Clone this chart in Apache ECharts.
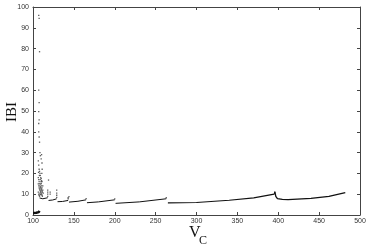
<!DOCTYPE html>
<html><head><meta charset="utf-8">
<script src="https://cdn.jsdelivr.net/npm/echarts@6/dist/echarts.min.js"></script>
<style>html,body{margin:0;padding:0;background:#fff}#c{width:370px;height:248px}</style>
</head><body><div id="c"></div>
<script>
// Axis ticks
const xTicks = [100,150,200,250,300,350,400,450,500];
const yTicks = [0,10,20,30,40,50,60,70,80,90,100];
// Branches of the IBI curve (V_C, IBI)
const branch0 = [[100,1.0],[104,1.1],[107,1.4],[108,2.0]];
const branch1 = [[108,8.2],[112,7.8],[118,8.3]];
const branch2 = [[119,7.0],[124,7.2],[129,7.8]];
const branch3 = [[130,6.4],[136,6.5],[143,7.0]];
const branch4 = [[144,6.2],[155,6.6],[165,7.3]];
const branch5 = [[166,5.9],[180,6.3],[200,7.3]];
const branch6 = [[201,5.6],[230,6.3],[263,7.8]];
const branch7 = [[265,5.8],[300,6.0],[340,7.1],[370,8.2],[395,10.0],[396,11.4]];
const branch8 = [[396,11.0],[397,9.0],[399,7.9],[405,7.5],[412,7.4],[440,8.0],[462,9.0],[482,10.8]];
// Scattered (irregular) IBI values
const scatterPts = [
 [107,96],[107.5,94.5],[108,78.5],[107,60],[107.5,54],[107,49.7],[107.5,45.7],[107,44],
 [107,40],[107.5,37.5],[108,35],[108.5,30],[109,28.5],[110,27],[110.5,29],[111,25],
 [106.5,26],[107,24],[107.5,22],[108,21],[108.5,20],[109,19],[109.5,18],[110,17.5],[110.5,16.5],[111,16],
 [106.5,15],[107,14],[107.5,13],[108,12.5],[108.5,12],[109,11.5],[109.5,11],[110,10.5],[110.5,10],[111,9.5],[111.5,9],
 [106.5,18],[107,17],[107.5,16],[108,15],[108.5,14],[109,13.5],[109.5,13],[110,12.5],[110.5,12],[111,11.5],[111.5,11],
 [106.5,11],[107,10],[107.5,9.5],[108,9],[108.5,10.5],[109,9.8],[109.5,14.8],[110,15.2],[110.5,14],[111,13],[112,12],
 [106.8,20.5],[107.8,19],[108.8,17],[109.8,16],[110.8,20],[111.2,22],[112,14],[112.5,10.5],
 [118,9],[118,10],[118,11],[118,12],[119,16.8],[121,10],[121,11],
 [129,8.5],[129,9.5],[129,10.5],[129,12],[143,7.8],[143,8.3],[144,8.8],
 [165,7.9],[200,7.8],[263,8.3]
];

const chart = echarts.init(document.getElementById('c'));
const axisCol = '#444';
const labelStyle = {fontFamily:'Liberation Sans, Arial, sans-serif', fontSize:7, color:'#333'};
function lineSeries(data, w){
  return {type:'line', data:data, showSymbol:false, symbol:'none', silent:true,
    lineStyle:{color:'#111', width:w||1}, animation:false, z:3};
}
chart.setOption({
  animation:false,
  backgroundColor:'#fff',
  grid:{left:33, right:10, top:7, bottom:33},
  xAxis:[{
    type:'value', min:100, max:500, interval:50, position:'bottom',
    axisLine:{show:true, onZero:false, lineStyle:{color:axisCol, width:1}},
    axisTick:{show:true, inside:true, length:3, lineStyle:{color:axisCol}},
    axisLabel:Object.assign({margin:3, formatter:v=>xTicks.includes(v)?String(v):''}, labelStyle),
    splitLine:{show:false}
  },{
    type:'value', min:100, max:500, interval:50, position:'top',
    axisLine:{show:true, onZero:false, lineStyle:{color:axisCol, width:1}},
    axisTick:{show:true, inside:true, length:3, lineStyle:{color:axisCol}},
    axisLabel:{show:false}, splitLine:{show:false}
  }],
  yAxis:[{
    type:'value', min:0, max:100, interval:10, position:'left',
    axisLine:{show:true, onZero:false, lineStyle:{color:axisCol, width:1}},
    axisTick:{show:true, inside:true, length:3, lineStyle:{color:axisCol}},
    axisLabel:Object.assign({margin:4, formatter:v=>yTicks.includes(v)?String(v):''}, labelStyle),
    splitLine:{show:false}
  },{
    type:'value', min:0, max:100, interval:10, position:'right',
    axisLine:{show:true, onZero:false, lineStyle:{color:axisCol, width:1}},
    axisTick:{show:true, inside:true, length:3, lineStyle:{color:axisCol}},
    axisLabel:{show:false}, splitLine:{show:false}
  }],
  series:[
    lineSeries(branch0, 2.5), lineSeries(branch1), lineSeries(branch2), lineSeries(branch3),
    lineSeries(branch4), lineSeries(branch5), lineSeries(branch6), lineSeries(branch7, 1.2), lineSeries(branch8, 1.3),
    {type:'scatter', data:scatterPts, symbol:'rect', symbolSize:1.3, itemStyle:{color:'#333'}, silent:true, z:4}
  ],
  graphic:[
    {type:'text', rotation:Math.PI/2, position:[5,122], style:{text:'IBI', font:'15px "Liberation Serif", "Times New Roman", serif', fill:'#111'}},
    {type:'text', position:[189,225], style:{text:'V', font:'16px "Liberation Serif", "Times New Roman", serif', fill:'#111'}},
    {type:'text', position:[199,235], style:{text:'C', font:'12px "Liberation Serif", "Times New Roman", serif', fill:'#111'}}
  ]
});
</script></body></html>
